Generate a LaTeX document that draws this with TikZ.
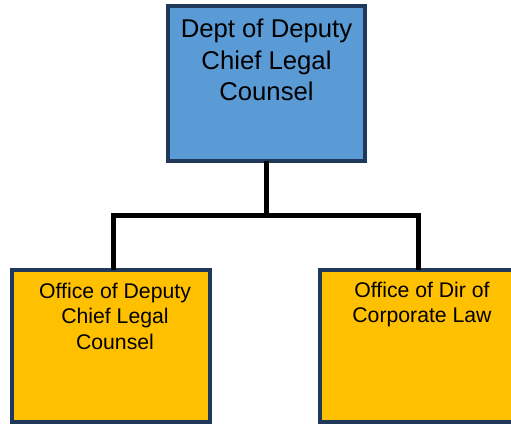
\documentclass[tikz,border=0pt]{standalone}
\usepackage{fontspec}
\setmainfont{Liberation Sans}
\definecolor{deptblue}{RGB}{91,155,213}
\definecolor{officegold}{RGB}{255,192,0}
\definecolor{boxedge}{RGB}{32,56,90}
\begin{document}
\begin{tikzpicture}[x=1bp,y=1bp,
  orgbox/.style={draw=boxedge, line width=4bp, rectangle, inner sep=0pt, outer sep=0pt},
  conn/.style={draw=black, line width=4.6bp, line join=miter},
  toplabel/.style={inner sep=0pt, align=center, anchor=base, font=\fontsize{25.8}{31.5}\selectfont},
  sublabel/.style={inner sep=0pt, align=center, anchor=base, font=\fontsize{21.3}{25.5}\selectfont}]
\useasboundingbox (0,0) rectangle (511,425);
\node[orgbox, fill=deptblue, minimum width=197bp, minimum height=154.4bp] (top) at (266,341.5) {};
\node[orgbox, fill=officegold, minimum width=197.7bp, minimum height=152bp] (left) at (111.15,78.7) {};
\node[orgbox, fill=officegold, minimum width=196bp, minimum height=152bp] (right) at (418.3,78.7) {};
\node[toplabel] (toptext) at (266.5,324.3) {Dept of Deputy\\Chief Legal\\Counsel};
\node[sublabel] (lefttext) at (115,75.7) {Office of Deputy\\Chief Legal\\Counsel};
\node[sublabel] (righttext) at (422,102.3) {Office of Dir of\\Corporate Law};
\coordinate (junction) at (266.6,209.3);
\draw[conn] ([xshift=0.6bp]top.south) -- (junction);
\draw[conn] ([xshift=2.2bp]left.north) |- (junction) -| (right.north);
\end{tikzpicture}
\end{document}
